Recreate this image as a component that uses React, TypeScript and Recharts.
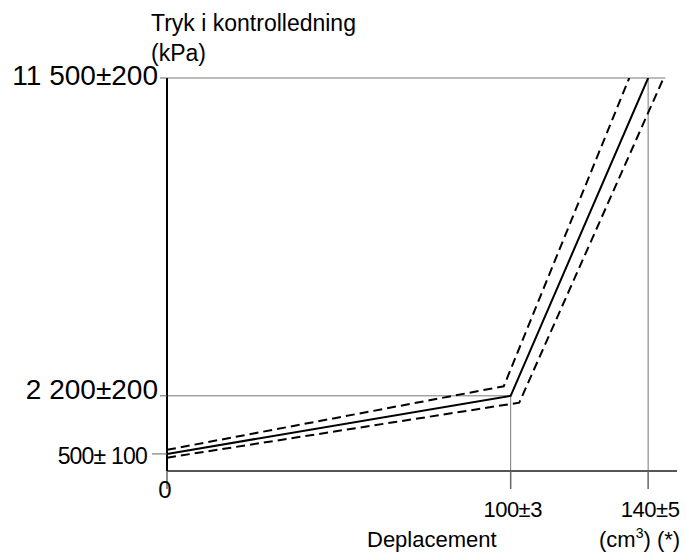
import React from "react";
import { LineChart, Line, XAxis, YAxis, ReferenceLine } from "recharts";

const yTicks = [500, 2200, 11500];
const yTickLabels = ["500± 100", "2 200±200", "11 500±200"];
const xTicks = [0, 100, 140];
const xTickLabels = ["0", "100±3", "140±5"];

const nominal = [
  { x: 0, y: 500 },
  { x: 100, y: 2200 },
  { x: 140, y: 11500 },
];
const upperBound = [
  { x: 0, y: 620 },
  { x: 98, y: 2480 },
  { x: 134.5, y: 11500 },
];
const lowerBound = [
  { x: 0, y: 390 },
  { x: 102.5, y: 2000 },
  { x: 144.5, y: 11500 },
];

const FONT = "'Liberation Sans', Arial, sans-serif";

const YTick = (props: any) => {
  const { y, payload } = props;
  const i = yTicks.indexOf(payload.value);
  const label = yTickLabels[i];
  const size = i === 0 ? 23 : 28;
  const dy = i === 0 ? 10 : i === 1 ? 3 : 7;
  const endX = i === 0 ? 147 : 158;
  const tickStart = i === 0 ? 152 : 160;
  return (
    <g>
      <line x1={tickStart} x2={167} y1={y} y2={y} stroke="#666" strokeWidth={1} />
      <text
        x={endX}
        y={y + dy}
        textAnchor="end"
        fontFamily={FONT}
        fontSize={size}
        fill="#000"
        letterSpacing={i === 0 ? -0.8 : 0}
      >
        {label}
      </text>
    </g>
  );
};

const XTick = (props: any) => {
  const { x, payload } = props;
  const i = xTicks.indexOf(payload.value);
  const label = xTickLabels[i];
  if (i === 0) {
    return (
      <text x={x - 2} y={498} textAnchor="middle" fontFamily={FONT} fontSize={24} fill="#000">
        {label}
      </text>
    );
  }
  return (
    <text x={x + 2} y={517} textAnchor="middle" fontFamily={FONT} fontSize={22} fill="#000" letterSpacing={-0.5}>
      {label}
    </text>
  );
};

export default function App() {
  return (
    <div
      style={{
        position: "absolute",
        left: 0,
        top: 0,
        width: 686,
        height: 556,
        background: "#fff",
        fontFamily: FONT,
      }}
    >
      <LineChart
        width={686}
        height={556}
        margin={{ top: 78, right: 9, bottom: 0, left: 0 }}
      >
        <XAxis
          type="number"
          dataKey="x"
          domain={[0, 148.4]}
          ticks={xTicks}
          allowDataOverflow
          height={85}
          tickSize={18}
          tickLine={{ stroke: "#666", strokeWidth: 1.5 }}
          axisLine={{ stroke: "#555", strokeWidth: 2 }}
          tick={<XTick />}
          interval={0}
        />
        <YAxis
          type="number"
          dataKey="y"
          domain={[0, 11500]}
          ticks={yTicks}
          allowDataOverflow
          width={167}
          tickSize={7}
          tickLine={false}
          axisLine={{ stroke: "#000", strokeWidth: 2 }}
          tick={<YTick />}
          interval={0}
        />
        <ReferenceLine
          segment={[
            { x: 0, y: 11500 },
            { x: 145, y: 11500 },
          ]}
          stroke="#777"
          strokeWidth={1}
          ifOverflow="visible"
        />
        <ReferenceLine
          segment={[
            { x: 0, y: 2200 },
            { x: 100, y: 2200 },
          ]}
          stroke="#777"
          strokeWidth={1}
          ifOverflow="visible"
        />
        <ReferenceLine
          segment={[
            { x: 100, y: 0 },
            { x: 100, y: 2200 },
          ]}
          stroke="#777"
          strokeWidth={1}
          ifOverflow="visible"
        />
        <ReferenceLine
          segment={[
            { x: 140, y: 0 },
            { x: 140, y: 11500 },
          ]}
          stroke="#777"
          strokeWidth={1}
          ifOverflow="visible"
        />
        <Line
          data={upperBound}
          dataKey="y"
          stroke="#000"
          strokeWidth={2}
          strokeDasharray="9 5"
          dot={false}
          isAnimationActive={false}
        />
        <Line
          data={lowerBound}
          dataKey="y"
          stroke="#000"
          strokeWidth={2}
          strokeDasharray="9 5"
          dot={false}
          isAnimationActive={false}
        />
        <Line
          data={nominal}
          dataKey="y"
          stroke="#000"
          strokeWidth={2}
          dot={false}
          isAnimationActive={false}
        />
      </LineChart>
      <div style={{ position: "absolute", left: 151, top: 8, fontSize: 23, lineHeight: "30px", color: "#000" }}>
        Tryk i kontrolledning
        <br />
        (kPa)
      </div>
      <div style={{ position: "absolute", left: 367, top: 526, fontSize: 22, lineHeight: "28px", color: "#000", whiteSpace: "nowrap" }}>
        Deplacement
      </div>
      <div style={{ position: "absolute", left: 599, top: 526, fontSize: 22, lineHeight: "28px", color: "#000", whiteSpace: "nowrap" }}>
        (cm<span style={{ fontSize: 14, position: "relative", top: -9 }}>3</span>) (*)
      </div>
    </div>
  );
}
